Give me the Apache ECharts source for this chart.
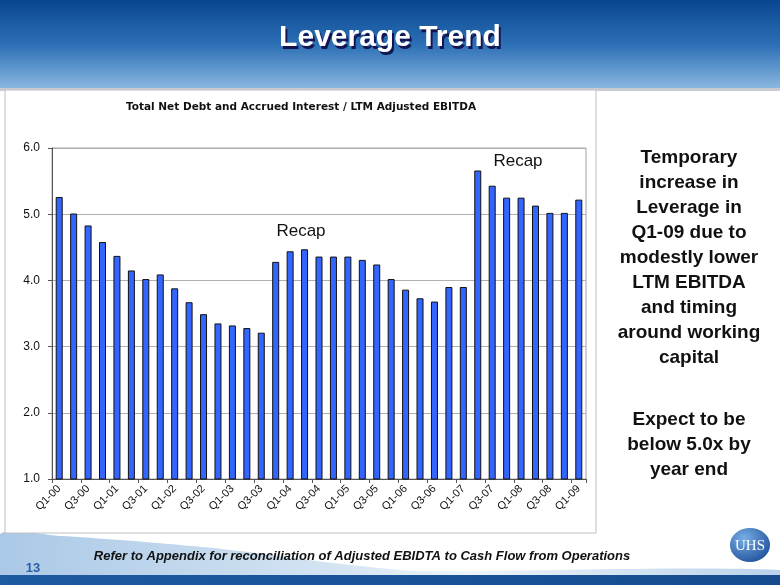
<!DOCTYPE html>
<html><head><meta charset="utf-8">
<script src="https://cdn.jsdelivr.net/npm/echarts@6/dist/echarts.min.js"></script>
<style>html,body{margin:0;padding:0;background:#fff}#c{width:780px;height:585px}</style>
</head><body><div id="c"></div>
<script>
const categories = ["Q1-00","Q2-00","Q3-00","Q4-00","Q1-01","Q2-01","Q3-01","Q4-01","Q1-02","Q2-02","Q3-02","Q4-02","Q1-03","Q2-03","Q3-03","Q4-03","Q1-04","Q2-04","Q3-04","Q4-04","Q1-05","Q2-05","Q3-05","Q4-05","Q1-06","Q2-06","Q3-06","Q4-06","Q1-07","Q2-07","Q3-07","Q4-07","Q1-08","Q2-08","Q3-08","Q4-08","Q1-09"];
const leverage = [5.26,5.01,4.83,4.58,4.37,4.15,4.02,4.09,3.88,3.67,3.49,3.35,3.32,3.28,3.21,4.28,4.44,4.47,4.36,4.36,4.36,4.31,4.24,4.02,3.86,3.73,3.68,3.90,3.90,5.66,5.43,5.25,5.25,5.13,5.02,5.02,5.22];
const yTicks = [1.0,2.0,3.0,4.0,5.0,6.0];
const chartTitle = "Total Net Debt and Accrued Interest / LTM Adjusted EBITDA";
const slideTitle = "Leverage Trend";
const sideText1 = ["Temporary","increase in","Leverage in","Q1-09 due to","modestly lower","LTM EBITDA","and timing","around working","capital"];
const sideText2 = ["Expect to be","below 5.0x by","year end"];
const footnote = "Refer to Appendix for reconciliation of Adjusted EBIDTA to Cash Flow from Operations";

const chart = echarts.init(document.getElementById('c'), null, {renderer:'canvas'});
const F = 'Arial, "Liberation Sans", Helvetica, sans-serif';
const swoosh = [[0,534],[60,536],[120,540],[180,545],[240,551],[300,559],[360,566],[420,571],[780,570],[780,585],[0,585]];
const graphics = [
  {type:'rect', z:-10, shape:{x:0,y:0,width:780,height:90}, style:{fill:new echarts.graphic.LinearGradient(0,0,0,1,[{offset:0,color:'#08468f'},{offset:0.5,color:'#2d70b6'},{offset:1,color:'#8dbbe2'}])}},
  {type:'rect', z:-10, shape:{x:0,y:88,width:780,height:3}, style:{fill:'#c8ccd2'}},
  {type:'polygon', z:-10, shape:{points:swoosh, smooth:0.3}, style:{fill:new echarts.graphic.LinearGradient(0,0,1,0,[{offset:0,color:'#a9c8e6'},{offset:0.45,color:'#d6e5f3'},{offset:0.6,color:'#eef4fa'},{offset:1,color:'#b9d2ea'}])}},
  {type:'rect', z:-9, shape:{x:0,y:575,width:780,height:10}, style:{fill:new echarts.graphic.LinearGradient(0,0,1,0,[{offset:0,color:'#1c5aa2'},{offset:1,color:'#164c8f'}])}},
  {type:'rect', z:-5, shape:{x:5,y:90,width:591,height:443}, style:{fill:'#ffffff',stroke:'#c0c0c0',lineWidth:1}},
  {type:'text', z:5, x:392, y:40.5, style:{text:slideTitle, font:'bold 30px '+F, fill:'#141450', align:'center', verticalAlign:'middle'}},
  {type:'text', z:6, x:390, y:38, style:{text:slideTitle, font:'bold 30px '+F, fill:'#ffffff', align:'center', verticalAlign:'middle'}},
  {type:'text', z:6, x:301, y:107, style:{text:chartTitle, font:'bold 10.5px "DejaVu Sans", Verdana, sans-serif', fill:'#111', align:'center', verticalAlign:'middle'}},
  {type:'text', z:6, x:301, y:231, style:{text:'Recap', font:'17px '+F, fill:'#111', align:'center', verticalAlign:'middle'}},
  {type:'text', z:6, x:518, y:161, style:{text:'Recap', font:'17px '+F, fill:'#111', align:'center', verticalAlign:'middle'}},
  {type:'text', z:6, x:362, y:556, style:{text:footnote, font:'italic bold 13px '+F, fill:'#111', align:'center', verticalAlign:'middle'}},
  {type:'text', z:6, x:33, y:568, style:{text:'13', font:'bold 13px '+F, fill:'#2a5fa3', align:'center', verticalAlign:'middle'}},
  {type:'circle', z:6, x:750, y:545, scaleX:1.18, scaleY:1, shape:{cx:0,cy:0,r:17}, style:{fill:new echarts.graphic.RadialGradient(0.35,0.3,0.8,[{offset:0,color:'#78aee6'},{offset:1,color:'#1d4f98'}])}},
  {type:'text', z:7, x:750, y:546, style:{text:'UHS', font:'15px "Liberation Serif", "DejaVu Serif", serif', fill:'#ffffff', align:'center', verticalAlign:'middle'}}
];
sideText1.forEach((t,i)=>graphics.push({type:'text', z:6, x:689, y:158+i*25, style:{text:t, font:'bold 19px '+F, fill:'#111', align:'center', verticalAlign:'middle'}}));
sideText2.forEach((t,i)=>graphics.push({type:'text', z:6, x:689, y:420+i*25, style:{text:t, font:'bold 19px '+F, fill:'#111', align:'center', verticalAlign:'middle'}}));

chart.setOption({
  animation:false,
  backgroundColor:'#ffffff',
  graphic: graphics,
  grid:{left:52, right:194, top:148, bottom:106, show:true, borderColor:'#a0a0a0', borderWidth:1, backgroundColor:'transparent'},
  xAxis:{type:'category', data:categories, boundaryGap:true,
    axisLine:{lineStyle:{color:'#555', width:1}},
    axisTick:{show:true, interval:1, length:4, lineStyle:{color:'#555'}},
    axisLabel:{interval:1, rotate:45, fontSize:11, fontFamily:F, color:'#111', margin:8}},
  yAxis:{type:'value', min:yTicks[0], max:yTicks[yTicks.length-1], interval:1,
    axisLine:{show:true, lineStyle:{color:'#555'}},
    axisTick:{show:true, length:4, lineStyle:{color:'#555'}},
    splitLine:{lineStyle:{color:'#b0b0b0'}},
    axisLabel:{fontSize:12, fontFamily:F, color:'#111', margin:12, formatter:v=>v.toFixed(1)}},
  series:[{type:'bar', data:leverage, barWidth:7,
    itemStyle:{color:'#3366ff', borderColor:'#111', borderWidth:1}}]
});
</script></body></html>
